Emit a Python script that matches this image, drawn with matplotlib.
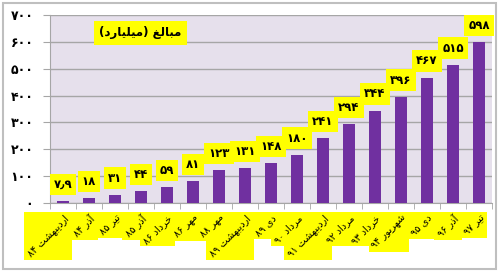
import matplotlib
matplotlib.use('Agg')
import matplotlib.pyplot as plt
from matplotlib.patches import Rectangle
import matplotlib.ticker as ticker

# ---------------- data ----------------
categories = ['اردیبهشت 84', 'آذر 84', 'تیر 85', 'آذر 85', 'خرداد 86', 'مهر 86',
              'مهر 88', 'اردیبهشت 89', 'دی 89', 'مرداد 90', 'اردیبهشت 91',
              'مرداد 92', 'خرداد 93', 'شهریور 94', 'دی 95', 'آذر 96', 'تیر 97']
values = [7.9, 18, 31, 44, 59, 81, 123, 131, 148, 180, 241, 294, 344, 396, 467, 515, 598]
value_labels = ['7٫9', '18', '31', '44', '59', '81', '123', '131', '148', '180',
                '241', '294', '344', '396', '467', '515', '598']
y_ticks = [0, 100, 200, 300, 400, 500, 600, 700]
title = 'مبالغ (میلیارد)'

# ---------------- minimal Persian shaping (no external libs) ----------------
FORMS = {  # isolated, final, initial, medial
    'ا': (0xFE8D, 0xFE8E, None, None),
    'آ': (0xFE81, 0xFE82, None, None),
    'ب': (0xFE8F, 0xFE90, 0xFE91, 0xFE92),
    'ت': (0xFE95, 0xFE96, 0xFE97, 0xFE98),
    'خ': (0xFEA5, 0xFEA6, 0xFEA7, 0xFEA8),
    'د': (0xFEA9, 0xFEAA, None, None),
    'ذ': (0xFEAB, 0xFEAC, None, None),
    'ر': (0xFEAD, 0xFEAE, None, None),
    'ز': (0xFEAF, 0xFEB0, None, None),
    'ش': (0xFEB5, 0xFEB6, 0xFEB7, 0xFEB8),
    'غ': (0xFECD, 0xFECE, 0xFECF, 0xFED0),
    'ل': (0xFEDD, 0xFEDE, 0xFEDF, 0xFEE0),
    'م': (0xFEE1, 0xFEE2, 0xFEE3, 0xFEE4),
    'ه': (0xFEE9, 0xFEEA, 0xFEEB, 0xFEEC),
    'و': (0xFEED, 0xFEEE, None, None),
    'ی': (0xFEEF, 0xFEF0, 0xFEF3, 0xFEF4),
}
FA_DIGITS = str.maketrans('0123456789', '۰۱۲۳۴۵۶۷۸۹')
MIRROR = {'(': ')', ')': '('}


def shape(text):
    text = text.translate(FA_DIGITS)
    out = []
    for i, ch in enumerate(text):
        if ch not in FORMS:
            out.append(ch)
            continue
        prev = text[i - 1] if i > 0 else ''
        nxt = text[i + 1] if i + 1 < len(text) else ''
        j_prev = prev in FORMS and FORMS[prev][2] is not None
        j_next = FORMS[ch][2] is not None and nxt in FORMS
        f = FORMS[ch]
        if j_prev and j_next:
            out.append(chr(f[3]))
        elif j_prev:
            out.append(chr(f[1]))
        elif j_next:
            out.append(chr(f[2]))
        else:
            out.append(chr(f[0]))
    # visual order: reverse, but keep digit runs left-to-right
    runs, cur, is_dig = [], '', None
    for ch in out:
        d = ch in '۰۱۲۳۴۵۶۷۸۹٫'
        if is_dig is None or d == is_dig:
            cur += ch
        else:
            runs.append((cur, is_dig))
            cur = ch
        is_dig = d
    runs.append((cur, is_dig))
    vis = ''
    for s, d in reversed(runs):
        vis += s if d else ''.join(MIRROR.get(c, c) for c in reversed(s))
    return vis


# ---------------- figure ----------------
plt.rcParams['font.family'] = ['DejaVu Sans']
fig = plt.figure(figsize=(5.0, 2.74), dpi=100)
ax = fig.add_axes([0.10, 0.259, 0.884, 0.686])

x = list(range(len(values)))
ax.set_facecolor('#E6E0EC')
ax.bar(x, values, width=0.45, color='#7030A0', zorder=3)

ax.set_xlim(-0.5, len(values) - 0.5)
ax.set_ylim(0, 700)
ax.set_yticks(y_ticks)
ax.yaxis.set_major_formatter(ticker.FuncFormatter(lambda v, p: shape(str(int(v)))))
ax.grid(axis='y', color='#A6A6A6', linewidth=1.0, zorder=1)
ax.tick_params(axis='y', length=5, color='#A6A6A6', pad=7, labelsize=9)
for t in ax.get_yticklabels():
    t.set_fontweight('bold')

ax.set_xticks(x)
ax.set_xticklabels([shape(c) for c in categories], rotation=45, ha='right', va='top',
                   rotation_mode='anchor', fontsize=7)
ax.tick_params(axis='x', length=0, pad=7)
ax.set_xticks([i - 0.5 for i in range(len(values) + 1)], minor=True)
ax.tick_params(axis='x', which='minor', length=4, color='#A6A6A6')

for s in ['top', 'right']:
    ax.spines[s].set_visible(False)
for s in ['left', 'bottom']:
    ax.spines[s].set_color('#A6A6A6')

# value labels in yellow boxes
for xi, v, lab in zip(x, values, value_labels):
    ax.annotate(shape(lab), (xi, v), xytext=(0, 12), textcoords='offset points',
                ha='center', va='center', fontsize=8.5, fontweight='bold', zorder=5,
                bbox=dict(boxstyle='square,pad=0.35', facecolor='#FFFF00', edgecolor='none'))

# title box
ax.text(0.205, 0.905, shape(title), transform=ax.transAxes, ha='center', va='center',
        fontsize=8.5, fontweight='bold', zorder=5,
        bbox=dict(boxstyle='square,pad=0.45', facecolor='#FFFF00', edgecolor='none'))

# outer frame
fig.add_artist(Rectangle((0.006, 0.02), 0.986, 0.968, transform=fig.transFigure,
                         fill=False, edgecolor='#BFBFBF', linewidth=1.5))

# axis-aligned yellow boxes behind the rotated category labels
fig.canvas.draw()
renderer = fig.canvas.get_renderer()
inv = fig.transFigure.inverted()
for t in ax.get_xticklabels():
    bb = t.get_window_extent(renderer).expanded(1.05, 1.05)
    (x0, y0), (x1, y1) = inv.transform([[bb.x0, bb.y0], [bb.x1, bb.y1]])
    fig.add_artist(Rectangle((x0, y0), x1 - x0, y1 - y0, transform=fig.transFigure,
                             facecolor='#FFFF00', edgecolor='none', zorder=-1))

fig.savefig('out.png', dpi=100)
